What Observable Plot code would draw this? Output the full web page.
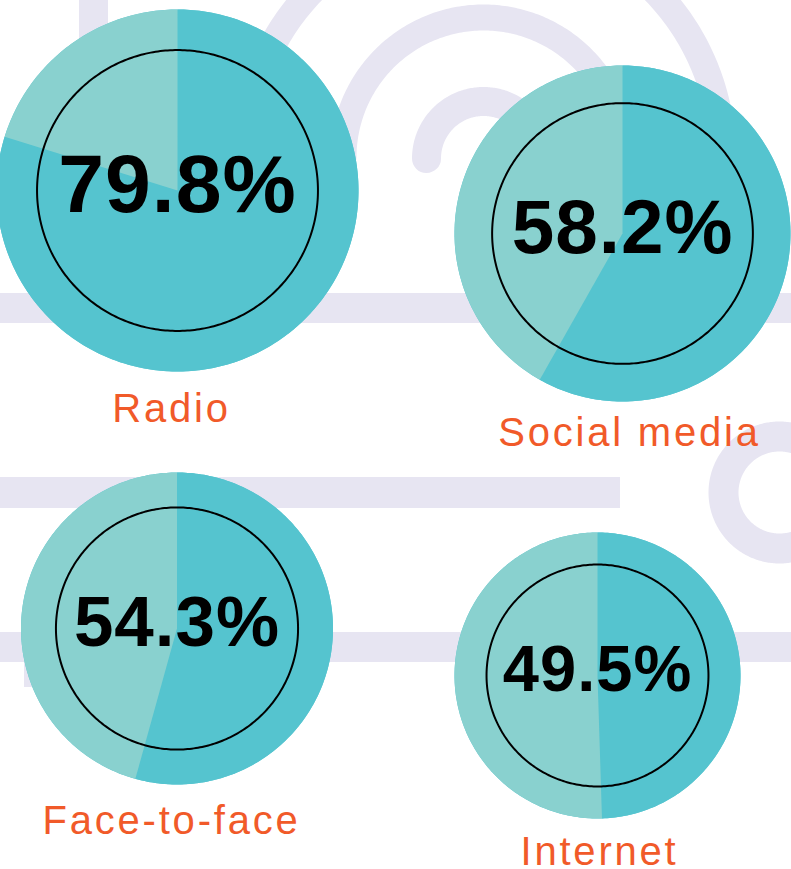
<!DOCTYPE html>
<html><head><meta charset="utf-8">
<script src="https://cdn.jsdelivr.net/npm/d3@7"></script>
<script src="https://cdn.jsdelivr.net/npm/@observablehq/plot@0.6"></script>
<style>
html,body{margin:0;padding:0;background:#fff;}
#chart{width:791px;height:869px;overflow:hidden;}
g[aria-description="labels"] text{letter-spacing:2.8px;}
g[aria-description="values"] text{letter-spacing:1px;}
</style></head><body><div id="chart"></div>
<script>
// ---- data ----
const channels = ["Radio", "Social media", "Face-to-face", "Internet"];
const shares = [79.8, 58.2, 54.3, 49.5];

// ---- layout (positions / sizes) ----
const pieX = [177, 622, 176.5, 597];
const pieY = [190, 233, 628, 675];
const pieR = [181, 168, 156, 143];
const innerRatio = 0.776;
const valueSizeRatio = 0.455;
const labelX = [171, 629, 171, 599];
const labelY = [421, 445, 833, 864];

// decorative backdrop
const bgBars = [
  {x1: 79, x2: 108, y1: -5, y2: 300},
  {x1: -5, x2: 796, y1: 293, y2: 323},
  {x1: -5, x2: 620, y1: 477, y2: 508},
  {x1: -5, x2: 796, y1: 632, y2: 662},
  {x1: 24, x2: 53, y1: 640, y2: 687}
];
const bgArcs = [ // concentric semicircles
  {cx: 483, cy: 158, r: 57, w: 29},
  {cx: 483, cy: 157, r: 140, w: 26},
  {cx: 483, cy: 157, r: 239, w: 27}
];
const bgRing = {cx: 779, cy: 492, r: 56, w: 30};

// ---- colours ----
const DARK = "#55C4CF", LIGHT = "#89D1CF", LAV = "#E7E5F2", ORANGE = "#F15A29";

const pies = channels.map((name, i) => ({
  name, share: shares[i], cx: pieX[i], cy: pieY[i], r: pieR[i],
  lx: labelX[i], ly: labelY[i]
}));

function arcPts(cx, cy, r, a0, a1, key, withCenter) {
  const n = Math.max(2, Math.ceil(Math.abs(a1 - a0) / (2 * Math.PI) * 360));
  const pts = withCenter ? [{x: cx, y: cy, key}] : [];
  for (let k = 0; k <= n; k++) {
    const a = a0 + (a1 - a0) * k / n;
    pts.push({x: cx + r * Math.sin(a), y: cy - r * Math.cos(a), key});
  }
  return pts;
}

const discs = pies.flatMap(p => arcPts(p.cx, p.cy, p.r, 0, 2 * Math.PI, p.name, false));
const darkSlices = pies.flatMap(p => arcPts(p.cx, p.cy, p.r, 0, 2 * Math.PI * p.share / 100, p.name, true));
const lightSlices = pies.flatMap(p => arcPts(p.cx, p.cy, p.r, 2 * Math.PI * p.share / 100, 2 * Math.PI, p.name, true));
const innerCircles = pies.flatMap(p => arcPts(p.cx, p.cy, p.r * innerRatio, 0, 2 * Math.PI, p.name, false));
const arcLines = bgArcs.flatMap((a, i) => arcPts(a.cx, a.cy, a.r, -Math.PI / 2, Math.PI / 2, "arc" + i, false).map(d => ({...d, w: a.w})));
const ringLine = arcPts(bgRing.cx, bgRing.cy, bgRing.r, 0, 2 * Math.PI, "ring", false);

const font = "'Liberation Sans', Arial, Helvetica, sans-serif";

const chart = Plot.plot({
  width: 791, height: 869, margin: 0,
  style: {background: "transparent", overflow: "hidden"},
  x: {domain: [0, 791], axis: null},
  y: {domain: [0, 869], reverse: true, axis: null},
  marks: [
    Plot.rect(bgBars, {x1: "x1", x2: "x2", y1: "y1", y2: "y2", fill: LAV}),
    ...bgArcs.map((a, i) => Plot.line(arcLines.filter(d => d.key === "arc" + i), {
      x: "x", y: "y", stroke: LAV, strokeWidth: a.w, strokeLinecap: "round", fill: "none"
    })),
    Plot.line(ringLine, {x: "x", y: "y", stroke: LAV, strokeWidth: bgRing.w, fill: "none"}),
    Plot.line(discs, {x: "x", y: "y", z: "key", fill: DARK, stroke: "none"}),
    Plot.line(darkSlices, {x: "x", y: "y", z: "key", fill: DARK, stroke: "none"}),
    Plot.line(lightSlices, {x: "x", y: "y", z: "key", fill: LIGHT, stroke: "none"}),
    Plot.line(innerCircles, {x: "x", y: "y", z: "key", fill: "none", stroke: "#000", strokeWidth: 2}),
    Plot.text(pies, {
      x: "cx", y: "cy", dy: -5, text: d => d.share.toFixed(1) + "%",
      fontSize: d => d.r * valueSizeRatio, fontWeight: "bold", fontFamily: font,
      fill: "#000", textAnchor: "middle", lineAnchor: "middle", ariaDescription: "values"
    }),
    Plot.text(pies, {
      x: "lx", y: "ly", text: "name", fontSize: 40, fontFamily: font,
      fill: ORANGE, textAnchor: "middle", lineAnchor: "bottom", ariaDescription: "labels"
    })
  ]
});
document.getElementById("chart").appendChild(chart);
</script></body></html>
